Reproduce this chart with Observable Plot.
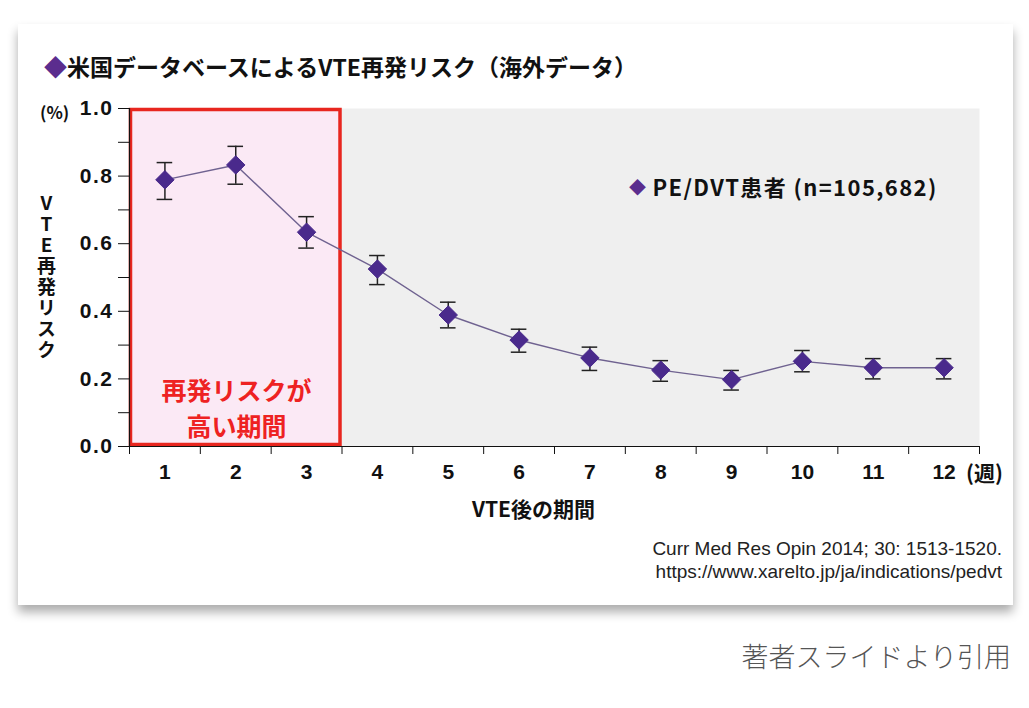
<!DOCTYPE html>
<html><head><meta charset="utf-8">
<script src="https://cdn.jsdelivr.net/npm/d3@7"></script>
<script src="https://cdn.jsdelivr.net/npm/@observablehq/plot@0.6"></script>
<style>
body{margin:0;background:#fff;width:1029px;height:708px;position:relative;overflow:hidden;font-family:"Liberation Sans","Noto Sans CJK JP",sans-serif;}
.card{position:absolute;left:18px;top:24px;width:995px;height:581px;background:#fff;box-shadow:0 7px 10px rgba(0,0,0,0.33);}
.abs{position:absolute;white-space:nowrap;line-height:1;}
.jp{font-family:"Noto Sans CJK JP",sans-serif;font-weight:700;color:#111;}
#chart{position:absolute;left:0;top:0;}
</style></head>
<body>
<div class="card"></div>
<div id="chart"></div>
<div class="abs jp" style="left:44px;top:55px;font-size:23px;"><span style="color:#5b2d8e">◆</span>米国データベースによるVTE再発リスク（海外データ）</div>
<div class="abs jp" style="left:40px;top:103px;font-size:17px;">(%)</div>
<div class="abs jp" style="left:37px;top:193px;font-size:19px;writing-mode:vertical-rl;text-orientation:upright;letter-spacing:2px;">VTE再発リスク</div>
<div class="abs jp" style="left:966px;top:462px;font-size:21px;">(週)</div>
<div class="abs jp" style="left:472px;top:498px;font-size:21px;">VTE後の期間</div>
<div class="abs jp" style="left:131px;top:371px;width:211px;text-align:center;font-size:25px;color:#ee2222;line-height:36px;">再発リスクが<br>高い期間</div>
<div class="abs jp" style="left:629px;top:175px;font-size:22px;letter-spacing:1.4px;"><span style="color:#5b2d8e;font-size:17px;vertical-align:2px;letter-spacing:0;">◆</span> PE/DVT患者 (n=105,682)</div>
<div class="abs" style="right:27px;top:537px;font-size:19px;color:#222;text-align:right;line-height:23px;">Curr Med Res Opin 2014; 30: 1513-1520.<br>https://www.xarelto.jp/ja/indications/pedvt</div>
<div class="abs" style="right:18px;top:642px;font-size:27px;color:#555;font-family:'Noto Sans CJK JP',sans-serif;font-weight:300;">著者スライドより引用</div>
<script>
const weeks = [1,2,3,4,5,6,7,8,9,10,11,12];
const risk  = [0.789,0.833,0.634,0.525,0.389,0.315,0.262,0.226,0.198,0.252,0.233,0.233];
const upper = [0.840,0.888,0.680,0.565,0.427,0.347,0.294,0.254,0.225,0.284,0.260,0.260];
const lower = [0.731,0.776,0.587,0.479,0.351,0.279,0.225,0.193,0.167,0.221,0.200,0.200];
const yTicks = [0,0.1,0.2,0.3,0.4,0.5,0.6,0.7,0.8,0.9,1.0];
const highRiskWeeks = [1,3];

const data = weeks.map((w,i)=>({week:w, risk:risk[i], hi:upper[i], lo:lower[i]}));
const bandEdges = [0, ...weeks].map(w => w + 0.5);
const highlight = [{x1: highRiskWeeks[0]-0.5, x2: highRiskWeeks[1]+0.5}];

const chart = Plot.plot({
  width: 1029, height: 530,
  marginLeft: 129, marginRight: 50, marginTop: 108, marginBottom: 84,
  x: {domain: [0.5, 12.5]},
  y: {domain: [0, 1]},
  style: {fontFamily: "'Liberation Sans', sans-serif", fontSize: "20px", fontWeight: "bold", color: "#111", overflow: "visible", background: "transparent"},
  marks: [
    Plot.frame({fill: "#efefef", stroke: null}),
    Plot.rect(highlight, {x1: "x1", x2: "x2", y1: 0, y2: 1, fill: "#fbe9f5", stroke: "#e8261f", strokeWidth: 3.5, inset: 1.5}),
    Plot.axisY(yTicks, {tickSize: 11, tickPadding: 5, fontSize: 21, label: null, tickFormat: d => Math.round(d*10) % 2 === 0 ? d.toFixed(1) : ""}),
    Plot.axisX(bandEdges, {tickSize: 8, tickFormat: () => "", label: null}),
    Plot.axisX(weeks, {tickSize: 0, tickPadding: 18, fontSize: 21, label: null}),
    Plot.ruleX([0.5], {stroke: "#111", strokeWidth: 1.2}),
    Plot.ruleY([0], {stroke: "#111", strokeWidth: 1.2}),
    Plot.line(data, {x: "week", y: "risk", stroke: "#6f6290", strokeWidth: 1.4}),
    Plot.ruleX(data, {x: "week", y1: "lo", y2: "hi", stroke: "#222", strokeWidth: 1.5}),
    Plot.ruleY(data, {y: "hi", x1: d => d.week - 0.11, x2: d => d.week + 0.11, stroke: "#222", strokeWidth: 1.5}),
    Plot.ruleY(data, {y: "lo", x1: d => d.week - 0.11, x2: d => d.week + 0.11, stroke: "#222", strokeWidth: 1.5}),
    Plot.dot(data, {x: "week", y: "risk", symbol: "diamond2", r: 8.3, fill: "#4a2a8c", stroke: "#4a2a8c", strokeWidth: 1})
  ]
});
chart.querySelectorAll('[aria-label="y-axis tick label"] text').forEach(t => t.setAttribute("letter-spacing", "1.5"));
document.getElementById("chart").appendChild(chart);
</script>
</body></html>
